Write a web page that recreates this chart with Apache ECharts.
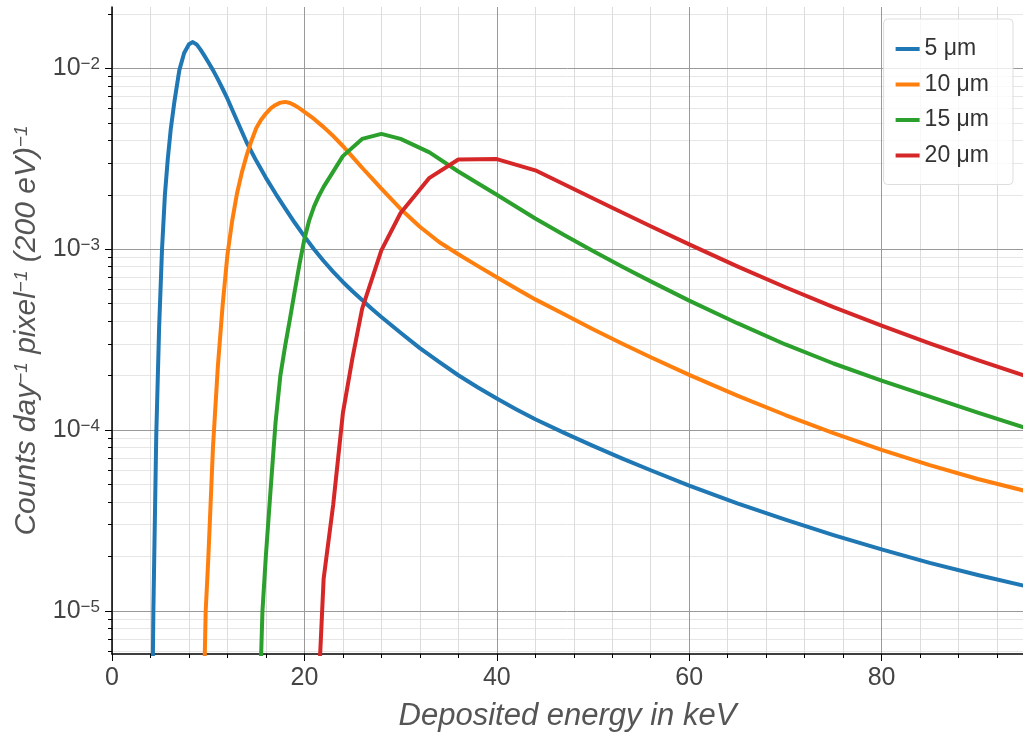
<!DOCTYPE html>
<html>
<head>
<meta charset="utf-8">
<script src="https://cdn.jsdelivr.net/npm/echarts@6/dist/echarts.min.js"></script>
<style>
html,body{margin:0;padding:0;background:#fff;}
#chart{width:1023px;height:738px;}
</style>
</head>
<body>
<div id="chart"></div>
<script>
// ---- data ----
const seriesNames = ['5 μm', '10 μm', '15 μm', '20 μm'];
const seriesColors = ['#1f77b4', '#ff7f0e', '#2ca02c', '#d62728'];

const e5  = [4.2, 4.3, 4.6, 4.9, 5.2, 5.5, 5.8, 6.1, 6.5, 7.0, 7.5, 8.0, 8.4, 8.8, 9.2, 9.6, 10, 10.5, 11, 11.5, 12, 13, 14, 15, 16, 17, 18, 19, 20, 21, 22, 23, 24, 25, 26, 27, 28, 30, 32, 34, 36, 38, 40, 42, 44, 47, 50, 53, 56, 60, 65, 70, 75, 80, 85, 90, 95];
const v5  = [3.16e-6, 1.0e-5, 9.33e-5, 3.72e-4, 1.0e-3, 2.0e-3, 3.16e-3, 4.57e-3, 6.61e-3, 9.77e-3, 1.216e-2, 1.358e-2, 1.396e-2, 1.355e-2, 1.268e-2, 1.175e-2, 1.084e-2, 9.77e-3, 8.71e-3, 7.71e-3, 6.79e-3, 5.13e-3, 3.89e-3, 3.08e-3, 2.48e-3, 2.03e-3, 1.68e-3, 1.40e-3, 1.178e-3, 1.0e-3, 8.61e-4, 7.5e-4, 6.59e-4, 5.86e-4, 5.24e-4, 4.69e-4, 4.22e-4, 3.45e-4, 2.84e-4, 2.38e-4, 2.01e-4, 1.726e-4, 1.496e-4, 1.306e-4, 1.148e-4, 9.66e-5, 8.18e-5, 6.98e-5, 6.0e-5, 4.94e-5, 3.94e-5, 3.2e-5, 2.63e-5, 2.19e-5, 1.845e-5, 1.583e-5, 1.371e-5];

const e10 = [9.5, 9.74, 10.0, 10.5, 11.0, 11.5, 12.0, 12.5, 13.0, 13.5, 14.0, 14.5, 15.0, 15.5, 16.0, 16.5, 17.0, 17.5, 18.0, 18.5, 19.0, 19.5, 20, 21, 22, 23, 24, 25, 26, 27, 28, 30, 32, 34, 36, 38, 40, 42, 44, 47, 50, 53, 56, 60, 65, 70, 75, 80, 85, 90, 95];
const v10 = [2.5e-6, 1.0e-5, 1.9e-5, 8.1e-5, 2.24e-4, 4.9e-4, 9.33e-4, 1.445e-3, 2.04e-3, 2.66e-3, 3.31e-3, 3.98e-3, 4.68e-3, 5.19e-3, 5.62e-3, 6.0e-3, 6.27e-3, 6.46e-3, 6.52e-3, 6.43e-3, 6.24e-3, 6.0e-3, 5.75e-3, 5.25e-3, 4.73e-3, 4.22e-3, 3.72e-3, 3.24e-3, 2.82e-3, 2.47e-3, 2.16e-3, 1.67e-3, 1.33e-3, 1.096e-3, 9.38e-4, 8.09e-4, 7.0e-4, 6.07e-4, 5.28e-4, 4.37e-4, 3.61e-4, 3.01e-4, 2.53e-4, 2.02e-4, 1.55e-4, 1.212e-4, 9.63e-5, 7.78e-5, 6.4e-5, 5.37e-5, 4.6e-5];

const e15 = [15.3, 15.64, 16.0, 16.5, 17.0, 17.5, 18.0, 18.5, 19.0, 19.5, 20.0, 20.5, 21.0, 21.5, 22, 24, 26, 28, 30, 33, 36, 40, 44, 47, 50, 53, 56, 60, 65, 70, 75, 80, 85, 90, 95];
const v15 = [2.5e-6, 1.0e-5, 2.04e-5, 4.79e-5, 1.1e-4, 2.0e-4, 2.92e-4, 4.12e-4, 5.89e-4, 8.32e-4, 1.135e-3, 1.445e-3, 1.72e-3, 1.97e-3, 2.21e-3, 3.27e-3, 4.07e-3, 4.34e-3, 4.07e-3, 3.43e-3, 2.69e-3, 2.0e-3, 1.479e-3, 1.198e-3, 9.77e-4, 8.03e-4, 6.64e-4, 5.2e-4, 3.9e-4, 2.975e-4, 2.335e-4, 1.88e-4, 1.53e-4, 1.25e-4, 1.028e-4];

const e20 = [21.5, 22, 23, 24, 25, 26, 28, 30, 33, 36, 40, 44, 48, 52, 56, 60, 65, 70, 75, 80, 85, 90, 95];
const v20 = [4.0e-6, 1.51e-5, 3.89e-5, 1.24e-4, 2.51e-4, 4.68e-4, 9.86e-4, 1.585e-3, 2.48e-3, 3.13e-3, 3.15e-3, 2.73e-3, 2.15e-3, 1.694e-3, 1.34e-3, 1.064e-3, 8.04e-4, 6.16e-4, 4.78e-4, 3.78e-4, 3.02e-4, 2.44e-4, 1.99e-4];

// ---- axis ticks ----
const xMajorTicks = [0, 20, 40, 60, 80];
const xMinorTicks = [4, 8, 12, 16, 24, 28, 32, 36, 44, 48, 52, 56, 64, 68, 72, 76, 84, 88, 92];
const yMajorTicks = [1e-5, 1e-4, 1e-3, 1e-2];
const yMinorTicks = [6e-6, 7e-6, 8e-6, 9e-6,
  2e-5, 3e-5, 4e-5, 5e-5, 6e-5, 7e-5, 8e-5, 9e-5,
  2e-4, 3e-4, 4e-4, 5e-4, 6e-4, 7e-4, 8e-4, 9e-4,
  2e-3, 3e-3, 4e-3, 5e-3, 6e-3, 7e-3, 8e-3, 9e-3,
  2e-2];

const X_MIN = 0, X_MAX = 94.7;
const Y_MIN = 5.787e-6, Y_MAX = 0.02182;
const FONT = 'Liberation Sans';

const allE = [e5, e10, e15, e20];
const allV = [v5, v10, v15, v20];

const series = seriesNames.map((name, k) => ({
  name: name,
  type: 'line',
  xAxisIndex: 1,
  yAxisIndex: 1,
  data: allE[k].map((e, i) => [e, allV[k][i]]),
  showSymbol: false,
  symbol: 'none',
  smooth: false,
  clip: true,
  lineStyle: { color: seriesColors[k], width: 4, join: 'round', cap: 'round' },
  itemStyle: { color: seriesColors[k] },
  emphasis: { disabled: true },
  z: 3
}));

const chart = echarts.init(document.getElementById('chart'), null, { renderer: 'canvas' });
chart.setOption({
  animation: false,
  textStyle: { fontFamily: FONT },
  grid: { left: 112, right: 0, top: 7, bottom: 84, outerBoundsMode: 'none' },
  legend: {
    data: seriesNames,
    orient: 'vertical',
    right: 10,
    top: 19,
    icon: 'rect',
    itemWidth: 24,
    itemHeight: 4,
    itemGap: 9.5,
    padding: [17, 24, 16, 12],
    backgroundColor: 'rgba(255,255,255,0.8)',
    borderColor: '#dddddd',
    borderWidth: 1,
    borderRadius: 4,
    textStyle: { fontSize: 23, color: '#333', fontFamily: FONT, lineHeight: 26 },
    z: 10
  },
  xAxis: [
    {
      type: 'value', min: X_MIN, max: X_MAX, position: 'bottom', z: 0,
      axisLine: { show: false, onZero: false },
      axisTick: { show: true, customValues: xMinorTicks, length: 4, lineStyle: { color: '#000', width: 1 } },
      axisLabel: { show: false },
      splitLine: { show: true, lineStyle: { color: '#dcdcdc', width: 1 } }
    },
    {
      type: 'value', min: X_MIN, max: X_MAX, position: 'bottom', z: 1,
      axisLine: { show: true, onZero: false, lineStyle: { color: '#000', width: 1.5 } },
      axisTick: { show: true, customValues: xMajorTicks, length: 7, lineStyle: { color: '#000', width: 1 } },
      axisLabel: { show: true, customValues: xMajorTicks, fontSize: 25, color: '#444', margin: 12, fontFamily: FONT },
      splitLine: { show: true, lineStyle: { color: '#9a9a9a', width: 1 } },
      name: 'Deposited energy in keV',
      nameLocation: 'middle',
      nameGap: 47,
      nameTextStyle: { fontSize: 31, fontStyle: 'italic', color: '#555', fontFamily: FONT }
    }
  ],
  yAxis: [
    {
      type: 'log', logBase: 10, min: Y_MIN, max: Y_MAX, position: 'left', z: 0,
      axisLine: { show: false, onZero: false },
      axisTick: { show: true, customValues: yMinorTicks, length: 4, lineStyle: { color: '#000', width: 1 } },
      axisLabel: { show: false },
      splitLine: { show: true, lineStyle: { color: '#e6e6e6', width: 1 } }
    },
    {
      type: 'log', logBase: 10, min: Y_MIN, max: Y_MAX, position: 'left', z: 1,
      axisLine: { show: true, onZero: false, lineStyle: { color: '#000', width: 1.5 } },
      axisTick: { show: true, customValues: yMajorTicks, length: 7, lineStyle: { color: '#000', width: 1 } },
      axisLabel: {
        show: true, customValues: yMajorTicks, margin: 12,
        formatter: function (v) { return '{b|10}{s|\u2212' + Math.round(-Math.log10(v)) + '}'; },
        rich: {
          b: { fontSize: 25, lineHeight: 25, color: '#444', fontFamily: FONT },
          s: { fontSize: 17, lineHeight: 17, color: '#444', fontFamily: FONT, verticalAlign: 'top' }
        }
      },
      splitLine: { show: true, lineStyle: { color: '#9a9a9a', width: 1 } },
      name: '{t|Counts day}{s|\u22121}{t| pixel}{s|\u22121}{t| (200 eV)}{s|\u22121}',
      nameLocation: 'middle',
      nameGap: 66,
      nameTextStyle: {
        color: '#555',
        rich: {
          t: { fontSize: 30, fontStyle: 'italic', color: '#555', fontFamily: FONT, lineHeight: 30 },
          s: { fontSize: 19, fontStyle: 'italic', color: '#555', fontFamily: FONT, lineHeight: 19, verticalAlign: 'top' }
        }
      }
    }
  ],
  series: series
});
</script>
</body>
</html>
